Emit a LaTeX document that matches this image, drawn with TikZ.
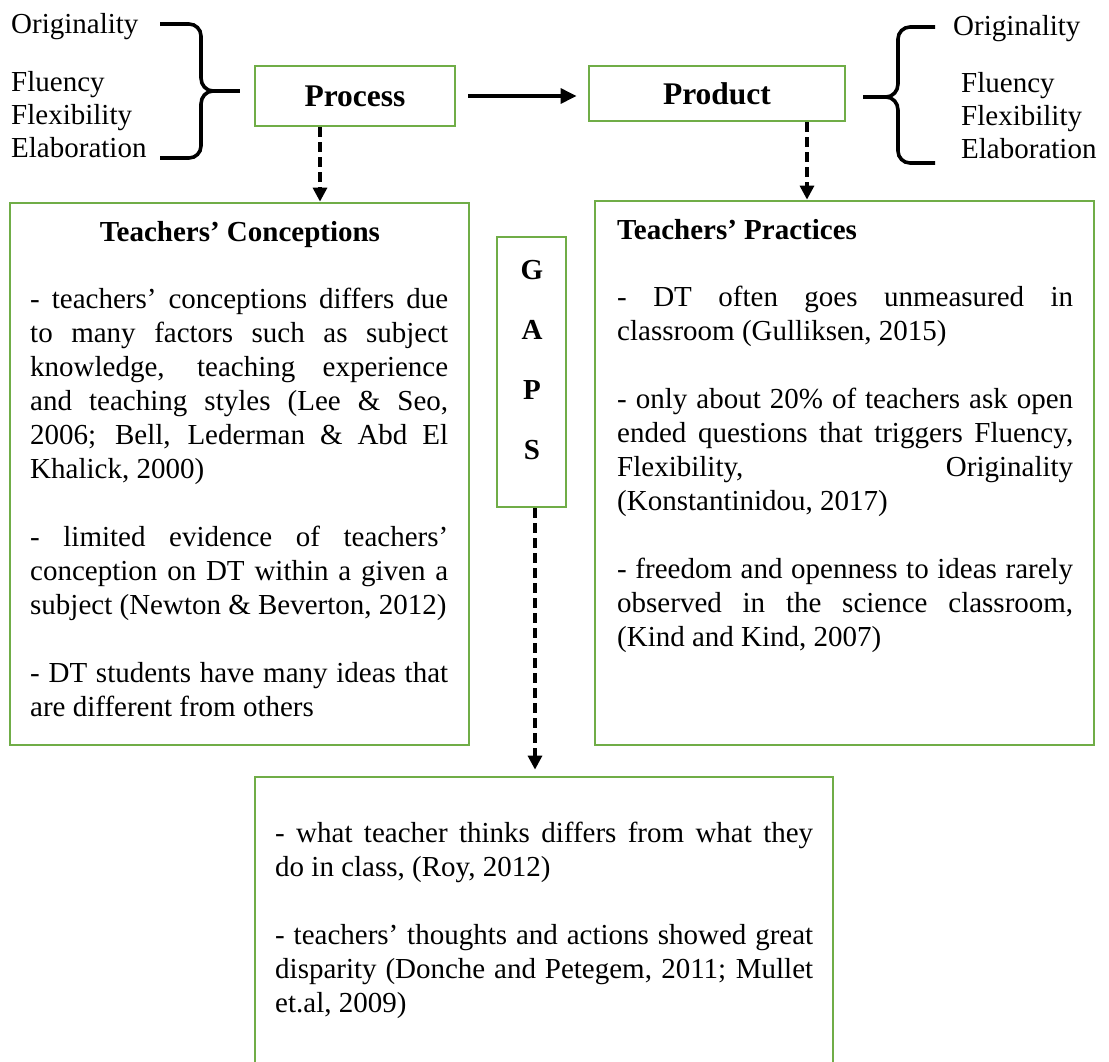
\documentclass[tikz,border=0pt]{standalone}
\usepackage{fontspec}
\setmainfont{Liberation Serif}
\usetikzlibrary{arrows.meta,calc}
\definecolor{boxgreen}{RGB}{112,173,71}
\setlength{\parindent}{0pt}
\tolerance=10000
\emergencystretch=20pt
\begin{document}
\begin{tikzpicture}[x=1pt,y=-1pt,
  greenbox/.style={draw=boxgreen, line width=2.8pt, inner sep=0pt, rectangle},
  txt/.style={font=\fontsize{29}{34}\selectfont, inner sep=0pt},
  ttl/.style={font=\fontsize{29}{34}\selectfont\bfseries, inner sep=0pt},
  bigttl/.style={font=\fontsize{31.5}{36}\selectfont\bfseries},
  bodytext/.style={txt, anchor=north west, align=justify, text width=#1},
  solidarr/.style={line width=3.2pt, -{Triangle[length=16pt,width=15pt]}},
  dasharr/.style={line width=3.2pt, dash pattern=on 10pt off 5pt, -{Triangle[length=14pt,width=14pt]}},
  bracestyle/.style={line width=3.6pt}
]
\useasboundingbox (0,0) rectangle (1109,1061);
\clip (0,0) rectangle (1109,1061);

% top boxes
\node[greenbox, bigttl, minimum width=200pt, minimum height=60pt] (proc) at (355,96) {Process};
\node[greenbox, bigttl, minimum width=256pt, minimum height=55pt] (prod) at (717,93.5) {Product};

% main boxes
\node[greenbox, minimum width=459pt, minimum height=542pt] (conc) at (239.5,474) {};
\node[greenbox, minimum width=499pt, minimum height=544pt] (prac) at (844.5,473) {};
\node[greenbox, minimum width=69pt, minimum height=270pt] (gaps) at (531.5,372) {};
\node[greenbox, minimum width=578pt, minimum height=323pt] (bot) at (544,938.5) {};

% left list
\node[txt, anchor=base west] (lo) at (11,33) {Originality};
\node[txt, anchor=base west] (lf) at (11,91) {Fluency};
\node[txt, anchor=base west] (lx) at (11,124) {Flexibility};
\node[txt, anchor=base west] (le) at (11,157) {Elaboration};

% right list
\node[txt, anchor=base west] (ro) at (953,35) {Originality};
\node[txt, anchor=base west] (rf) at (961,92) {Fluency};
\node[txt, anchor=base west] (rx) at (961,125) {Flexibility};
\node[txt, anchor=base west] (re) at (961,158) {Elaboration};

% braces
\draw[bracestyle] (160,24) -- (189,24) to[out=0,in=90] (201,36) -- (201,78)
  to[out=-90,in=180] (213,91) to[out=180,in=90] (201,104) -- (201,146)
  to[out=-90,in=0] (189,158) -- (160,158);
\draw[bracestyle] (212,91) -- (240,91);
\draw[bracestyle] (935,27) -- (910,27) to[out=180,in=90] (898,39) -- (898,84)
  to[out=-90,in=0] (886,97) to[out=0,in=90] (898,110) -- (898,151)
  to[out=-90,in=180] (910,163) -- (935,163);
\draw[bracestyle] (887,97) -- (863,97);

% titles
\node[ttl, anchor=base] (ctitle) at (240,241) {Teachers' Conceptions};
\node[ttl, anchor=base west] (ptitle) at (617,239) {Teachers' Practices};

% GAPS letters
\node[font=\fontsize{29}{60}\selectfont\bfseries, align=center, inner sep=0pt] (gapstext) at (532,360) {G\\A\\P\\S};

% body texts
\node[bodytext=418pt] (cbody) at (30,284) {\rule{0pt}{24pt}- teachers' conceptions differs due\linebreak
to many factors such as subject\linebreak
knowledge, teaching experience\linebreak
and teaching styles (Lee \& Seo,\linebreak
2006; Bell, Lederman \& Abd El\linebreak
Khalick, 2000)\par\vspace{34pt}
- limited evidence of teachers'\linebreak
conception on DT within a given a\linebreak
subject (Newton \& Beverton, 2012)\par\vspace{34pt}
- DT students have many ideas that\linebreak
are different from others};

\node[bodytext=456pt] (pbody) at (617,282) {\rule{0pt}{24pt}- DT often goes unmeasured in\linebreak
classroom (Gulliksen, 2015)\par\vspace{34pt}
- only about 20\% of teachers ask open\linebreak
ended questions that triggers Fluency,\linebreak
Flexibility, Originality\linebreak
(Konstantinidou, 2017)\par\vspace{34pt}
- freedom and openness to ideas rarely\linebreak
observed in the science classroom,\linebreak
(Kind and Kind, 2007)};

\node[bodytext=538pt] (bbody) at (275,818) {\rule{0pt}{24pt}- what teacher thinks differs from what they\linebreak
do in class, (Roy, 2012)\par\vspace{34pt}
- teachers' thoughts and actions showed great\linebreak
disparity (Donche and Petegem, 2011; Mullet\linebreak
et.al, 2009)};

% connectors
\draw[solidarr] ($(proc.east)+(12,0)$) -- ($(proc.east -| prod.west)+(-11,0)$);
\draw[dasharr] ([xshift=-35pt]proc.south) -- ([xshift=80.5pt]conc.north);
\draw[dasharr] ([xshift=90pt]prod.south) -- ([xshift=-37.5pt]prac.north);
\draw[dasharr, shorten >=6pt] ([xshift=3.5pt]gaps.south) -- ([xshift=-9pt]bot.north);
\end{tikzpicture}
\end{document}
